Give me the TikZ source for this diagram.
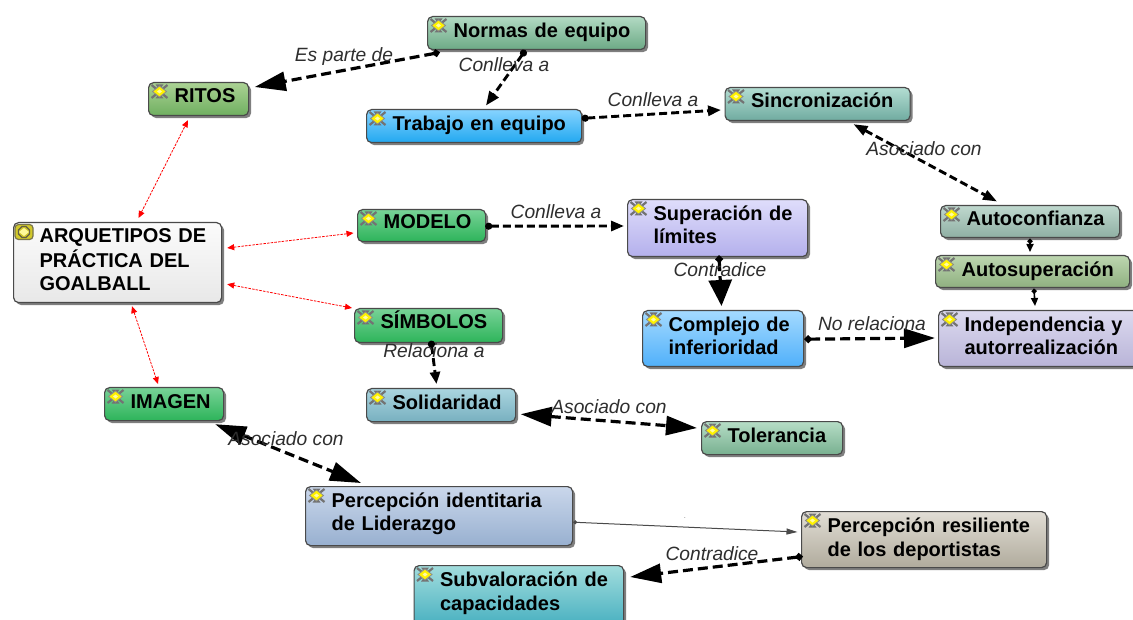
\documentclass[tikz,border=0pt]{standalone}
\usepackage{fontspec}
\setmainfont{Liberation Sans}
\usetikzlibrary{arrows.meta,shadows,calc}
\definecolor{edgeC}{HTML}{4A4A4A}
\definecolor{labC}{HTML}{2E2E2E}
\newcommand{\ctxt}[2][0]{\hspace*{26pt}\raisebox{0pt}[\height][\dimexpr\depth+#1pt+#1pt\relax]{\begin{tabular}{@{}l@{}}#2\end{tabular}}}
\newcommand{\cicon}[1]{%
  \begin{scope}[shift={(#1.north west)},shift={(11.5,9.5)}]
    \draw[black!55,line width=2.2] (-8,-6.5)--(-3,-2.5) (8,-6.5)--(3,-2.5) (-8,6.5)--(-3,2.5) (8,6.5)--(3,2.5);
    \fill[black!55] (-4,-7)--(4,-7)--(1,-3)--(-1,-3)--cycle (-4,7)--(4,7)--(1,3)--(-1,3)--cycle;
    \fill[yellow,draw=black!45,line width=.8] (-7,0)--(0,-5.5)--(7,0)--(0,5.5)--cycle;
    \fill[yellow!35!white] (-2.5,0)--(0,-2)--(2.5,0)--(0,2)--cycle;
  \end{scope}}
\tikzset{
  x=1pt,y=-1pt,
  cbox/.style n args={4}{/utils/exec={\definecolor{ctop}{HTML}{#3}\definecolor{cbot}{HTML}{#4}},
    draw=edgeC,line width=1.2pt,rounded corners=5pt,anchor=north west,
    minimum width=#1pt,minimum height=#2pt,text width=#1pt,inner xsep=0pt,inner ysep=0pt,align=left,
    top color=ctop,bottom color=cbot,
    font=\fontsize{20pt}{23.5pt}\selectfont\bfseries,text=black,
    drop shadow={shadow xshift=2.5pt,shadow yshift=-2.5pt,fill=black,opacity=.5}},
  lab/.style={font=\fontsize{19.2pt}{22pt}\selectfont\itshape,text=labC,inner sep=0pt},
  heavy/.style={draw=black,line width=3.2pt,dash pattern=on 10pt off 5pt},
  midl/.style={draw=black,line width=2.9pt,dash pattern=on 8pt off 4pt},
  redl/.style={draw=red,line width=.8pt,dash pattern=on 2.5pt off 1.2pt,{Triangle[length=7pt,width=6pt]}-{Triangle[length=7pt,width=6pt]}},
  bigT/.tip={Triangle[length=31pt,width=19pt]},
  dotT/.tip={Circle[length=7pt,width=7pt]},
  tinyT/.tip={Circle[length=5pt,width=5pt]},
}
\begin{document}
\begin{tikzpicture}
\clip (0,0) rectangle (1133,620);
% nodes
\node[cbox={218}{33}{B2DAC3}{6CA985}] (normas) at (427,16) {\ctxt{Normas de equipo}};
\node[cbox={100}{33}{ABD294}{6FAF60}] (ritos) at (148,82) {\ctxt[1]{RITOS}};
\node[cbox={215}{33}{86D3FF}{22A8F0}] (trabajo) at (366,109) {\ctxt{Trabajo en equipo}};
\node[cbox={185}{33}{B3DDD2}{70ABA0}] (sincro) at (724.5,87) {\ctxt[1]{Sincronización}};
\node[cbox={128}{32}{78D297}{2DB45A}] (modelo) at (357,209) {\ctxt[2]{MODELO}};
\node[cbox={208}{80}{FBFBFB}{E8E8E8}] (arq) at (13,222) {\ctxt[0.5]{ARQUETIPOS DE\\PRÁCTICA DEL\\GOALBALL}};
\node[cbox={180}{57}{DFDDFB}{B4B0EC}] (super) at (627,199) {\ctxt[1]{Superación de\\límites}};
\node[cbox={179}{32}{BFD8CE}{8FAFA3}] (autoc) at (940,205) {\ctxt[1]{Autoconfianza}};
\node[cbox={194}{32}{BDD6B0}{8FB080}] (autos) at (935,255) {\ctxt{Autosuperación}};
\node[cbox={161}{56}{A4DAFF}{50B0FA}] (complejo) at (642,310) {\ctxt[0.5]{Complejo de\\inferioridad}};
\node[cbox={210}{56}{DCDAEF}{B9B4D8}] (indep) at (938,310) {\ctxt[0.5]{Independencia y\\autorrealización}};
\node[cbox={148}{34}{78D297}{2DB45A}] (simbolos) at (354,308) {\ctxt[2]{SÍMBOLOS}};
\node[cbox={119}{33}{78D297}{2DB45A}] (imagen) at (104,387) {\ctxt{IMAGEN}};
\node[cbox={149}{33}{AAD5DF}{78B0C0}] (solid) at (366,388) {\ctxt{Solidaridad}};
\node[cbox={141}{33}{B6DDC6}{78B090}] (toler) at (701,421) {\ctxt{Tolerancia}};
\node[cbox={267}{59}{CAD7EB}{98B0D0}] (percid) at (305,486) {\ctxt[2]{Percepción identitaria\\de Liderazgo}};
\node[cbox={245}{56}{E1DDD5}{B0AB9C}] (percres) at (801,511) {\ctxt{Percepción resiliente\\de los deportistas}};
\node[cbox={209.5}{60}{A2DDDD}{48B0C0}] (subval) at (413.5,565) {\ctxt[2]{Subvaloración de\\capacidades}};
% icons
\foreach \n in {normas,ritos,trabajo,sincro,modelo,super,autoc,autos,complejo,indep,simbolos,imagen,solid,toler,percid,percres,subval}{\cicon{\n}}
\begin{scope}[shift={(arq.north west)},shift={(11,10)}]
  \fill[draw=black!60!yellow,fill=yellow!80!black,rounded corners=3.5pt,line width=1.2] (-9,-7.5) rectangle (9,7.5);
  \draw[black!70!yellow,line width=1.2] (-5.5,-2)--(-2,-5.5)--(2,-5.5)--(5.5,-2)--(5.5,2)--(2,5.5)--(-2,5.5)--(-5.5,2)--cycle;
  \fill[yellow!40!white] (-5,0)--(0,-4)--(5,0)--(0,4)--cycle;
\end{scope}
% connectors
\draw[heavy,{dotT}-{bigT}] ($(normas.south west)+(12.5,2.3)$) -- ($(ritos.north east)+(5.5,5)$);
\draw[midl,{dotT}-{Triangle[length=14pt,width=11pt]}] ($(normas.south west)+(98.5,0)$) -- ($(trabajo.north west)+(120,-3.5)$);
\draw[midl,{dotT}-{Triangle[length=13pt,width=10pt]}] ($(trabajo.south east)+(-0.5,-24.8)$) -- ($(sincro.north west)+(-3.5,23)$);
\draw[midl,{Triangle[length=14pt,width=10pt]}-{Triangle[length=14pt,width=10pt]}] ($(sincro.south west)+(129,3)$) -- ($(autoc.north west)+(57,-3.5)$);
\draw[midl,{dotT}-{Triangle[length=13pt,width=10pt]}] ($(modelo.south east)+(-1,-16)$) -- ($(super.north west)+(-3,27)$);
\draw[heavy,{dotT}-{Triangle[length=26pt,width=23pt]}] ($(super.south west)+(92,-1.5)$) -- ($(complejo.north west)+(79.5,-4)$);
\draw[line width=1.6pt,{tinyT}-{Triangle[length=8pt,width=7pt]}] ($(autoc.south west)+(90,.5)$) -- ($(autos.north west)+(95,-3)$);
\draw[line width=1.6pt,{tinyT}-{Triangle[length=8pt,width=7pt]}] ($(autos.south west)+(99,.5)$) -- ($(indep.north west)+(97,-4)$);
\draw[heavy,{dotT}-{bigT}] ($(complejo.south east)+(.5,-28)$) -- ($(indep.north west)+(-3,28)$);
\draw[midl,{dotT}-{Triangle[length=12pt,width=10pt]}] ($(simbolos.south west)+(77,-2.5)$) -- ($(solid.north west)+(70.5,-4)$);
\draw[heavy,{bigT}-{bigT}] ($(solid.south east)+(4.5,-8)$) -- ($(toler.north west)+(-4,7)$);
\draw[heavy,{bigT}-{bigT}] ($(imagen.south east)+(-9,3)$) -- ($(percid.north west)+(56,-3)$);
\draw[edgeC,line width=1pt,{Circle[length=4pt,width=4pt]}-{Triangle[length=11pt,width=6pt]}] ($(percid.south east)+(0,-24)$) -- ($(percres.north west)+(-3.5,21)$);
\draw[heavy,{dotT}-{bigT}] ($(percres.south west)+(1.5,-11.7)$) -- ($(subval.north east)+(6,12)$);
\draw[redl] ($(arq.north west)+(125.5,-4)$) -- ($(ritos.south west)+(40,4)$);
\draw[redl] ($(arq.north east)+(5,26)$) -- ($(modelo.north west)+(-3.5,24)$);
\draw[redl] ($(arq.south east)+(5,-19)$) -- ($(simbolos.north west)+(-2,0)$);
\draw[redl] ($(arq.south west)+(119,3)$) -- ($(imagen.north west)+(54,-3)$);
% labels
\node[lab] (l1) at (344,56.5) {Es parte de};
\node[lab] (l2) at (504,65) {Conlleva a};
\node[lab] (l3) at (653,100) {Conlleva a};
\node[lab] (l4) at (924,149) {Asociado con};
\node[lab] (l5) at (556,212) {Conlleva a};
\node[lab] (l6) at (720,270) {Contradice};
\node[lab] (l7) at (872,324) {No relaciona};
\node[lab] (l8) at (434,351) {Relaciona a};
\node[lab] (l9) at (609,407) {Asociado con};
\node[lab] (l10) at (286,439) {Asociado con};
\node[lab] (l11) at (712,554) {Contradice};
\node[lab,font=\fontsize{6pt}{6pt}\selectfont] (l12) at (685,518) {.};
\end{tikzpicture}
\end{document}
